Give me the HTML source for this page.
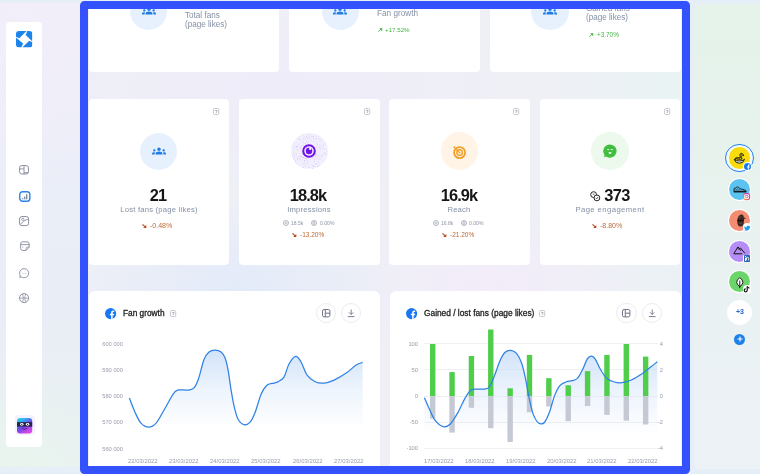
<!DOCTYPE html>
<html><head><meta charset="utf-8"><style>
*{margin:0;padding:0;box-sizing:border-box}
html,body{width:760px;height:474px;overflow:hidden}
body{position:relative;font-family:"Liberation Sans", sans-serif;background:#E6EEF8;}
.t{position:absolute;white-space:nowrap;font-family:"Liberation Sans", sans-serif;will-change:transform}
#clip{position:absolute;left:88px;top:9px;width:594px;height:457px;overflow:hidden}
#inner{position:absolute;left:-88px;top:-9px;width:760px;height:474px}
#frame{position:absolute;left:80px;top:1px;width:610px;height:473px;border:8px solid #3352FE;border-radius:4.5px;pointer-events:none}
</style></head><body>
<div style="position:absolute;left:-6.00px;top:2.50px;width:694.00px;height:464.20px;border-radius:6px;background:radial-gradient(ellipse 200px 150px at 20px 30px, rgba(242,238,250,1), rgba(242,238,250,0) 100%),radial-gradient(ellipse 120px 90px at 20px 466px, rgba(233,244,238,1), rgba(233,244,238,0) 100%),linear-gradient(180deg,#EFEEF8 0%,#EBEEF8 35%,#E9EEF6 65%,#E9F1F1 100%);"></div>
<div style="position:absolute;left:693.70px;top:3.50px;width:72.00px;height:465.00px;border-radius:6px;background:linear-gradient(180deg,#E5F3EA 0%,#E8F2EE 40%,#EAF1F3 70%,#EDF2F7 100%);"></div>
<div style="position:absolute;left:6.00px;top:21.80px;width:35.80px;height:425.00px;background:#fff;border-radius:4px;"></div>
<svg style="position:absolute;left:16.00px;top:31.00px;overflow:visible" width="16.4" height="16.6" viewBox="0 0 16.4 16.6"><defs><clipPath id="lc"><rect width="16.4" height="16.6" rx="3"/></clipPath></defs><g clip-path="url(#lc)" fill="#1D84EE"><polygon points="0,0 10.5,0 3.4,7.3 0,5.75"/><polygon points="11.3,0 16.4,0 16.4,10.5 9.7,4.0"/><polygon points="16.4,11.3 16.4,16.6 6.2,16.6 13.3,9.7"/><polygon points="0,6.4 7.1,12.6 5.3,16.6 0,16.6"/></g></svg>
<svg style="position:absolute;left:19.40px;top:164.50px;overflow:visible" width="10" height="9.6" viewBox="0 0 10 9.6"><rect x="0.55" y="0.55" width="8.9" height="8.5" rx="2.4" fill="none" stroke="#8A8F9E" stroke-width="1"/><path d="M5,0.6 V9 M0.6,3.9 H5 M5,7.6 H9.4" stroke="#8A8F9E" stroke-width="0.9"/></svg>
<svg style="position:absolute;left:18.60px;top:190.80px;overflow:visible" width="11.6" height="11" viewBox="0 0 11.6 11"><rect x="0.75" y="0.75" width="10.1" height="9.5" rx="2.8" fill="none" stroke="#2B86E6" stroke-width="1.4"/><path d="M3.8,7.6 V7.9 M5.8,6 V7.9 M7.8,3.6 V7.9" stroke="#3A5A86" stroke-width="0.95" stroke-linecap="round"/></svg>
<svg style="position:absolute;left:19.30px;top:215.90px;overflow:visible" width="10.2" height="10.2" viewBox="0 0 10.2 10.2"><rect x="0.55" y="0.55" width="9.1" height="9.1" rx="2.4" fill="none" stroke="#8A8F9E" stroke-width="1"/><circle cx="3.8" cy="3.3" r="1.15" fill="none" stroke="#8A8F9E" stroke-width="0.8"/><path d="M1.2,8.4 L4.6,5.4 Q6,4.2 7.6,3.8 L9.4,3.3" stroke="#8A8F9E" stroke-width="0.9" fill="none"/></svg>
<svg style="position:absolute;left:19.60px;top:241.40px;overflow:visible" width="10" height="10.2" viewBox="0 0 10 10.2"><path d="M2.8,0.8 H7 Q9.2,0.8 9.2,3 V6.2 L6.1,9.4 H2.8 Q0.6,9.4 0.6,7.2 V3 Q0.6,0.8 2.8,0.8 Z" fill="none" stroke="#8A8F9E" stroke-width="0.95"/><path d="M0.6,3.6 H9.2 M6.1,9.4 V7.6 Q6.1,6.2 7.5,6.2 H9.2" stroke="#8A8F9E" stroke-width="0.9" fill="none"/><circle cx="2.9" cy="6" r="0.55" fill="#8A8F9E"/></svg>
<svg style="position:absolute;left:19.40px;top:267.70px;overflow:visible" width="10.2" height="10.2" viewBox="0 0 10.2 10.2"><path d="M5.1,0.6 A4.6,4.6 0 1 1 2.4,8.9 L0.7,9.5 L1.3,7.8 A4.6,4.6 0 0 1 5.1,0.6 Z" fill="none" stroke="#8A8F9E" stroke-width="0.95"/><circle cx="3.1" cy="5.3" r="0.5" fill="#9AA0B6"/><circle cx="5.0" cy="5.3" r="0.5" fill="#9AA0B6"/><circle cx="6.9" cy="5.3" r="0.5" fill="#9AA0B6"/></svg>
<svg style="position:absolute;left:19.30px;top:293.30px;overflow:visible" width="10.2" height="10.2" viewBox="0 0 10.2 10.2"><circle cx="5.1" cy="5.1" r="4.55" fill="none" stroke="#8A8F9E" stroke-width="0.95"/><path d="M0.6,5.1 H9.6 M3.6,0.9 Q5.3,5.1 3.6,9.3 M6.6,0.9 Q4.9,5.1 6.6,9.3" stroke="#8A8F9E" stroke-width="0.75" fill="none"/></svg>
<div style="position:absolute;left:14.50px;top:415.20px;width:20.00px;height:20.00px;background:#F4F2FD;border-radius:4px;"></div>
<svg style="position:absolute;left:17.20px;top:418.00px;overflow:visible" width="15.2" height="15.4" viewBox="0 0 15.2 15.4"><defs><linearGradient id="av" x1="0" y1="0" x2="0.6" y2="1"><stop offset="0" stop-color="#2FD8F2"/><stop offset="0.3" stop-color="#38A8F0"/><stop offset="0.6" stop-color="#7444E6"/><stop offset="1" stop-color="#D848E8"/></linearGradient></defs><rect width="15.2" height="15.4" rx="3" fill="url(#av)"/><rect x="0" y="4.2" width="15.2" height="4.4" fill="#1E1B3A" opacity="0.9"/><ellipse cx="4.8" cy="6.3" rx="1.7" ry="1.4" fill="#fff"/><ellipse cx="10.6" cy="6.3" rx="1.7" ry="1.4" fill="#fff"/><circle cx="4.8" cy="6.4" r="0.6" fill="#1E1B3A"/><circle cx="10.6" cy="6.4" r="0.6" fill="#1E1B3A"/><path d="M5.4,10.5 Q7.7,12 10,10.5" stroke="#3A1A6A" stroke-width="0.8" fill="none"/></svg>
<div style="position:absolute;left:725.40px;top:144.00px;width:28.20px;height:28.20px;border-radius:50%;border:1.5px solid #1E84EE;box-sizing:border-box;background:rgba(255,255,255,0.55);"></div>
<div style="position:absolute;left:728.80px;top:147.40px;width:21.40px;height:21.40px;border-radius:50%;background:#F9DC0A;"></div>
<svg style="position:absolute;left:733.00px;top:152.00px;overflow:visible" width="13" height="12" viewBox="0 0 13 12"><path d="M1.4,7.6 Q3.2,6.3 5.8,7.2 Q7.8,7.6 9.2,6.9 Q8,5.8 8.3,4.6 Q8.6,3.8 9.6,3.3 L10.6,3.7 Q10.4,2.2 9.4,1.6 Q8.2,1 7.3,1.8 Q6.5,2.8 7.2,4.2 Q7.6,5.2 7,6 Q5,5.5 3,5.9 Q1.8,6.3 1.4,7.6 Z" fill="#F9DC0A" stroke="#111" stroke-width="0.95" stroke-linejoin="round"/><path d="M1.4,7.6 Q2.4,11.3 6.5,11.2 Q10.6,11.1 11.5,7.3 Q10.4,8.8 6.5,9 Q3.2,9 1.4,7.6 Z" fill="#fff" stroke="#111" stroke-width="0.95" stroke-linejoin="round"/><circle cx="8.6" cy="2.8" r="0.55" fill="#111"/></svg>
<div style="position:absolute;left:743.30px;top:162.00px;width:8.60px;height:8.60px;border-radius:50%;background:#fff;"></div>
<svg style="position:absolute;left:744.10px;top:162.80px;overflow:visible" width="7.0" height="7.0" viewBox="0 0 7.0 7.0"><defs><clipPath id="fbc3"><circle cx="3.5" cy="3.5" r="3.5"/></clipPath></defs><circle cx="3.5" cy="3.5" r="3.5" fill="#1877F2"/><g clip-path="url(#fbc3)"><path transform="scale(0.2917)" d="M16.5 24V15.6h2.8l.4-3.3h-3.2v-2.1c0-.95.26-1.6 1.630-1.6h1.7V5.66c-.3-.04-1.32-.13-2.5-.13-2.46 0-4.15 1.5-4.150 4.27v2.4H10.4v3.3h2.8V24z" fill="#fff"/></g></svg>
<div style="position:absolute;left:727.70px;top:177.80px;width:23.60px;height:23.60px;border-radius:50%;background:#fff;"></div>
<div style="position:absolute;left:728.80px;top:178.90px;width:21.40px;height:21.40px;border-radius:50%;background:#5CC3F1;"></div>
<svg style="position:absolute;left:732.80px;top:185.50px;overflow:visible" width="14" height="7" viewBox="0 0 14 7"><path d="M0.9,4.6 L1.3,2.2 Q2.5,2.5 3.3,1.4 Q4.4,0.6 5.5,1.3 Q6.3,2.4 7.8,2.9 L11.3,3.9 Q13.2,4.4 13.2,5.2 L0.9,5.2 Z" fill="#5CC3F1" stroke="#111" stroke-width="0.9" stroke-linejoin="round"/><path d="M0.7,5.8 H13.3" stroke="#111" stroke-width="1.3"/><path d="M3.2,2.9 v1.1 M4.6,2.4 v1.2 M6.1,3 v1.1" stroke="#111" stroke-width="0.6"/></svg>
<div style="position:absolute;left:742.50px;top:192.50px;width:8.80px;height:8.80px;border-radius:50%;background:#fff;"></div>
<svg style="position:absolute;left:743.30px;top:193.30px;overflow:visible" width="7.2" height="7.2" viewBox="0 0 7.2 7.2"><defs><linearGradient id="ig" x1="0" y1="1" x2="1" y2="0"><stop offset="0" stop-color="#F7A34B"/><stop offset="0.5" stop-color="#E0457B"/><stop offset="1" stop-color="#B33AC7"/></linearGradient></defs><rect x="0.6" y="0.6" width="6" height="6" rx="1.8" fill="#fff" stroke="url(#ig)" stroke-width="1.1"/><circle cx="3.6" cy="3.6" r="1.35" fill="none" stroke="url(#ig)" stroke-width="0.9"/></svg>
<div style="position:absolute;left:727.70px;top:208.60px;width:23.60px;height:23.60px;border-radius:50%;background:#fff;"></div>
<div style="position:absolute;left:728.90px;top:209.80px;width:21.20px;height:21.20px;border-radius:50%;background:#F38C73;"></div>
<svg style="position:absolute;left:735.80px;top:213.80px;overflow:visible" width="10.5" height="13" viewBox="0 0 10.5 13"><path d="M2.4,2.6 Q3.8,0.2 6.3,0.6 Q8,1.4 7.8,3.6 L9.8,3.9 Q9.6,4.9 7.9,5.1 Q8,8.5 7.6,10.4 Q6.4,12.6 4.2,12.6 Q1.8,12.2 1.4,9.6 Q0.6,5.6 2.4,2.6 Z" fill="#3B2722"/><path d="M1.6,6.3 Q4.5,6.9 7.8,6.2" stroke="#111" stroke-width="1.2" fill="none"/><path d="M3.2,3.2 h2 M3,9.2 h2.6" stroke="#8A6458" stroke-width="0.6"/></svg>
<div style="position:absolute;left:742.70px;top:223.20px;width:8.60px;height:8.60px;border-radius:50%;background:#fff;"></div>
<svg style="position:absolute;left:743.60px;top:224.60px;overflow:visible" width="6.8" height="5.8" viewBox="0 0 6.8 5.8"><path d="M6.5,0.9 Q5.9,1.3 5.3,1.3 Q4.2,0.1 3,0.9 Q2.2,1.6 2.5,2.5 Q1.1,2.4 0.3,1.3 Q-0.1,2.7 1,3.5 Q0.6,3.5 0.4,3.3 Q0.5,4.4 1.6,4.8 Q1,5.1 0,5 Q3.2,6.7 5.3,4.2 Q6.2,3 6.1,1.6 Q6.4,1.3 6.5,0.9Z" fill="#1D9BF0"/></svg>
<div style="position:absolute;left:727.70px;top:239.70px;width:23.60px;height:23.60px;border-radius:50%;background:#fff;"></div>
<div style="position:absolute;left:728.90px;top:240.90px;width:21.20px;height:21.20px;border-radius:50%;background:#B58DF6;"></div>
<svg style="position:absolute;left:733.00px;top:246.00px;overflow:visible" width="13" height="9" viewBox="0 0 13 9"><path d="M0.8,7.7 L5,0.9 L7.9,4.8 M6.4,2.8 L7.5,2.1 L12,7.4" stroke="#111" stroke-width="0.95" fill="none" stroke-linejoin="round"/><path d="M0.8,7.8 H9.2" stroke="#111" stroke-width="1"/><path d="M4.2,2.2 L5.4,3.2 L6.3,2.6" stroke="#111" stroke-width="0.7" fill="none"/></svg>
<div style="position:absolute;left:743.40px;top:254.60px;width:7.60px;height:7.60px;background:#fff;border-radius:1.2px;"></div>
<div style="position:absolute;left:744.00px;top:255.20px;width:6.40px;height:6.40px;background:#2A67B3;border-radius:0.8px;"></div>
<div style="position:absolute;left:744.90px;top:257.50px;width:0.90px;height:3.30px;background:#fff;"></div>
<div style="position:absolute;left:744.90px;top:256.20px;width:0.90px;height:0.90px;background:#fff;"></div>
<svg style="position:absolute;left:746.30px;top:257.40px;overflow:visible" width="3.6" height="3.6" viewBox="0 0 3.6 3.6"><path d="M0.4,3.4 V0.1 M0.4,1.5 Q0.6,0.3 1.6,0.3 Q2.6,0.3 2.6,1.5 V3.4" stroke="#fff" stroke-width="0.85" fill="none"/></svg>
<div style="position:absolute;left:727.70px;top:269.90px;width:23.60px;height:23.60px;border-radius:50%;background:#fff;"></div>
<div style="position:absolute;left:728.90px;top:271.10px;width:21.20px;height:21.20px;border-radius:50%;background:#6BD46B;"></div>
<svg style="position:absolute;left:735.80px;top:276.70px;overflow:visible" width="7.6" height="11.6" viewBox="0 0 7.6 11.6"><path d="M3.8,0.6 Q6.9,2.9 6.9,5.3 Q6.9,7.6 3.8,9.6 Q0.7,7.6 0.7,5.3 Q0.7,2.9 3.8,0.6 Z" fill="#fff" stroke="#111" stroke-width="0.95"/><path d="M3.8,3.6 V11.2" stroke="#111" stroke-width="0.95"/></svg>
<div style="position:absolute;left:742.60px;top:284.90px;width:8.80px;height:8.80px;border-radius:50%;background:#fff;"></div>
<svg style="position:absolute;left:744.30px;top:286.20px;overflow:visible" width="6" height="6.4" viewBox="0 0 6 6.4"><path d="M3.2,0.4 V4.3 A1.5,1.5 0 1 1 1.7,2.8" stroke="#111" stroke-width="1.2" fill="none"/><path d="M3.2,0.6 Q3.8,1.9 5.4,2.1" stroke="#111" stroke-width="1.1" fill="none"/></svg>
<div style="position:absolute;left:726.70px;top:299.50px;width:25.60px;height:25.60px;border-radius:50%;background:#fff;"></div>
<div class="t" style="top:308px;font-size:7px;line-height:7px;color:#2A66C8;font-weight:700;left:589.50px;width:300px;text-align:center;">+3</div>
<div style="position:absolute;left:733.90px;top:333.70px;width:11.20px;height:11.20px;border-radius:50%;background:#1E80EA;"></div>
<svg style="position:absolute;left:736.50px;top:336.30px;overflow:visible" width="6" height="6" viewBox="0 0 6 6"><path d="M3,0.5 V5.5 M0.5,3 H5.5" stroke="#fff" stroke-width="1.1"/></svg>
<div id="clip"><div id="inner">
<div style="position:absolute;left:88.00px;top:9.00px;width:594.00px;height:457.00px;background:radial-gradient(ellipse 230px 110px at 190px 80px, rgba(239,236,249,1), rgba(239,236,249,0) 100%),radial-gradient(ellipse 150px 80px at 400px 278px, rgba(243,236,249,1), rgba(243,236,249,0) 100%),radial-gradient(ellipse 170px 90px at 150px 278px, rgba(227,234,249,1), rgba(227,234,249,0) 100%),radial-gradient(ellipse 200px 130px at 660px 70px, rgba(231,245,241,1), rgba(231,245,241,0) 100%),radial-gradient(ellipse 170px 100px at 670px 280px, rgba(231,243,244,1), rgba(231,243,244,0) 100%),#EEF0F6;"></div>
<div style="position:absolute;left:88.50px;top:-40.00px;width:190.50px;height:112.30px;background:#fff;border-radius:4px;"></div>
<div style="position:absolute;left:289.00px;top:-40.00px;width:190.50px;height:112.30px;background:#fff;border-radius:4px;"></div>
<div style="position:absolute;left:490.00px;top:-40.00px;width:190.50px;height:112.30px;background:#fff;border-radius:4px;"></div>
<div style="position:absolute;left:129.90px;top:-7.60px;width:37.60px;height:37.60px;border-radius:50%;background:#E7F1FD;"></div>
<svg style="position:absolute;left:141.70px;top:4.00px;overflow:visible" width="14.0" height="14.0" viewBox="0 0 24 24"><path fill="#1E7CE6" d="M12 12.75c1.63 0 3.07.39 4.24.9 1.08.48 1.76 1.56 1.76 2.73V18H6v-1.61c0-1.18.68-2.26 1.76-2.73 1.17-.52 2.61-.91 4.24-.91zM4 13c1.1 0 2-.9 2-2s-.9-2-2-2-2 .9-2 2 .9 2 2 2zm1.13 1.1c-.37-.06-.74-.1-1.130-.1-.99 0-1.93.21-2.78.58C.48 14.9 0 15.62 0 16.43V18h4.5v-1.61c0-.83.23-1.61.63-2.29zM20 13c1.1 0 2-.9 2-2s-.9-2-2-2-2 .9-2 2 .9 2 2 2zm4 3.43c0-.81-.48-1.53-1.22-1.850-.85-.37-1.79-.58-2.78-.58-.39 0-.76.04-1.13.1.4.68.63 1.46.63 2.29V18H24v-1.57zM12 6c1.66 0 3 1.34 3 3s-1.34 3-3 3-3-1.34-3-3 1.34-3 3-3z"/></svg>
<div style="position:absolute;left:321.50px;top:-7.80px;width:37.60px;height:37.60px;border-radius:50%;background:#E7F1FD;"></div>
<svg style="position:absolute;left:333.30px;top:3.80px;overflow:visible" width="14.0" height="14.0" viewBox="0 0 24 24"><path fill="#1E7CE6" d="M12 12.75c1.63 0 3.07.39 4.24.9 1.08.48 1.76 1.56 1.76 2.73V18H6v-1.61c0-1.18.68-2.26 1.76-2.73 1.17-.52 2.61-.91 4.24-.91zM4 13c1.1 0 2-.9 2-2s-.9-2-2-2-2 .9-2 2 .9 2 2 2zm1.13 1.1c-.37-.06-.74-.1-1.130-.1-.99 0-1.93.21-2.78.58C.48 14.9 0 15.62 0 16.43V18h4.5v-1.61c0-.83.23-1.61.63-2.29zM20 13c1.1 0 2-.9 2-2s-.9-2-2-2-2 .9-2 2 .9 2 2 2zm4 3.43c0-.81-.48-1.53-1.22-1.850-.85-.37-1.79-.58-2.78-.58-.39 0-.76.04-1.13.1.4.68.63 1.46.63 2.29V18H24v-1.57zM12 6c1.66 0 3 1.34 3 3s-1.34 3-3 3-3-1.34-3-3 1.34-3 3-3z"/></svg>
<div style="position:absolute;left:531.40px;top:-7.40px;width:37.60px;height:37.60px;border-radius:50%;background:#E7F1FD;"></div>
<svg style="position:absolute;left:543.20px;top:4.20px;overflow:visible" width="14.0" height="14.0" viewBox="0 0 24 24"><path fill="#1E7CE6" d="M12 12.75c1.63 0 3.07.39 4.24.9 1.08.48 1.76 1.56 1.76 2.73V18H6v-1.61c0-1.18.68-2.26 1.76-2.73 1.17-.52 2.61-.91 4.24-.91zM4 13c1.1 0 2-.9 2-2s-.9-2-2-2-2 .9-2 2 .9 2 2 2zm1.13 1.1c-.37-.06-.74-.1-1.130-.1-.99 0-1.93.21-2.78.58C.48 14.9 0 15.62 0 16.43V18h4.5v-1.61c0-.83.23-1.61.63-2.29zM20 13c1.1 0 2-.9 2-2s-.9-2-2-2-2 .9-2 2 .9 2 2 2zm4 3.43c0-.81-.48-1.53-1.22-1.850-.85-.37-1.79-.58-2.78-.58-.39 0-.76.04-1.13.1.4.68.63 1.46.63 2.29V18H24v-1.57zM12 6c1.66 0 3 1.34 3 3s-1.34 3-3 3-3-1.34-3-3 1.34-3 3-3z"/></svg>
<div class="t" style="top:11px;font-size:8.15px;line-height:9px;color:#8590A6;left:184.90px;">Total fans</div>
<div class="t" style="top:20px;font-size:8.15px;line-height:9px;color:#8590A6;left:184.90px;">(page likes)</div>
<div class="t" style="top:9px;font-size:8.2px;line-height:9px;color:#8590A6;left:376.60px;">Fan growth</div>
<div class="t" style="top:4px;font-size:8.15px;line-height:9px;color:#8590A6;left:586.20px;">Gained fans</div>
<div class="t" style="top:13px;font-size:8.15px;line-height:9px;color:#8590A6;left:586.20px;">(page likes)</div>
<svg style="position:absolute;left:377.60px;top:27.90px;overflow:visible" width="4.4" height="4.2" viewBox="0 0 4.4 4.2"><path d="M0.5,3.7 L3.6,0.6" stroke="#45B545" stroke-width="1"/><path d="M1.2,0.2 H4.2 V3.2 Z" fill="#45B545"/></svg>
<div class="t" style="top:26px;font-size:6.2px;line-height:7px;color:#45B545;left:384.50px;">+17.52%</div>
<svg style="position:absolute;left:588.60px;top:32.90px;overflow:visible" width="4.4" height="4.2" viewBox="0 0 4.4 4.2"><path d="M0.5,3.7 L3.6,0.6" stroke="#45B545" stroke-width="1"/><path d="M1.2,0.2 H4.2 V3.2 Z" fill="#45B545"/></svg>
<div class="t" style="top:31px;font-size:6.4px;line-height:7px;color:#45B545;left:596.70px;">+3.70%</div>
<div style="position:absolute;left:88.50px;top:98.50px;width:140.50px;height:166.50px;background:#fff;border-radius:4px;"></div>
<svg style="position:absolute;left:212.90px;top:107.90px;overflow:visible" width="6.2" height="7" viewBox="0 0 6.2 7"><rect x="0.45" y="0.45" width="5.3" height="6.1" rx="1.3" fill="none" stroke="#BFC2CB" stroke-width="0.9"/><path d="M2.1,2.4 H3.9 Q4.1,2.5 3.9,3.2 L3.1,4.9" stroke="#9EA2AE" stroke-width="0.9" fill="none"/></svg>
<div style="position:absolute;left:239.00px;top:98.50px;width:141.00px;height:166.50px;background:#fff;border-radius:4px;"></div>
<svg style="position:absolute;left:363.90px;top:107.90px;overflow:visible" width="6.2" height="7" viewBox="0 0 6.2 7"><rect x="0.45" y="0.45" width="5.3" height="6.1" rx="1.3" fill="none" stroke="#BFC2CB" stroke-width="0.9"/><path d="M2.1,2.4 H3.9 Q4.1,2.5 3.9,3.2 L3.1,4.9" stroke="#9EA2AE" stroke-width="0.9" fill="none"/></svg>
<div style="position:absolute;left:389.00px;top:98.50px;width:140.50px;height:166.50px;background:#fff;border-radius:4px;"></div>
<svg style="position:absolute;left:513.40px;top:107.90px;overflow:visible" width="6.2" height="7" viewBox="0 0 6.2 7"><rect x="0.45" y="0.45" width="5.3" height="6.1" rx="1.3" fill="none" stroke="#BFC2CB" stroke-width="0.9"/><path d="M2.1,2.4 H3.9 Q4.1,2.5 3.9,3.2 L3.1,4.9" stroke="#9EA2AE" stroke-width="0.9" fill="none"/></svg>
<div style="position:absolute;left:540.00px;top:98.50px;width:140.00px;height:166.50px;background:#fff;border-radius:4px;"></div>
<svg style="position:absolute;left:663.90px;top:107.90px;overflow:visible" width="6.2" height="7" viewBox="0 0 6.2 7"><rect x="0.45" y="0.45" width="5.3" height="6.1" rx="1.3" fill="none" stroke="#BFC2CB" stroke-width="0.9"/><path d="M2.1,2.4 H3.9 Q4.1,2.5 3.9,3.2 L3.1,4.9" stroke="#9EA2AE" stroke-width="0.9" fill="none"/></svg>
<div style="position:absolute;left:140.05px;top:132.80px;width:37.40px;height:37.40px;border-radius:50%;background:#E7F1FD;"></div>
<svg style="position:absolute;left:151.75px;top:143.90px;overflow:visible" width="14.0" height="14.0" viewBox="0 0 24 24"><path fill="#1E7CE6" d="M12 12.75c1.63 0 3.07.39 4.24.9 1.08.48 1.76 1.56 1.76 2.73V18H6v-1.61c0-1.18.68-2.26 1.76-2.73 1.17-.52 2.61-.91 4.24-.91zM4 13c1.1 0 2-.9 2-2s-.9-2-2-2-2 .9-2 2 .9 2 2 2zm1.13 1.1c-.37-.06-.74-.1-1.130-.1-.99 0-1.93.21-2.78.58C.48 14.9 0 15.62 0 16.43V18h4.5v-1.61c0-.83.23-1.61.63-2.29zM20 13c1.1 0 2-.9 2-2s-.9-2-2-2-2 .9-2 2 .9 2 2 2zm4 3.43c0-.81-.48-1.53-1.22-1.850-.85-.37-1.79-.58-2.78-.58-.39 0-.76.04-1.13.1.4.68.63 1.46.63 2.29V18H24v-1.57zM12 6c1.66 0 3 1.34 3 3s-1.34 3-3 3-3-1.34-3-3 1.34-3 3-3z"/></svg>
<div style="position:absolute;left:291.30px;top:132.80px;width:36.40px;height:36.40px;border-radius:50%;background:radial-gradient(circle, #F1EDFD 0%, #F3F0FD 60%, #F6F4FE 100%);"></div>
<svg style="position:absolute;left:291.30px;top:132.80px;overflow:visible" width="36.4" height="36.4" viewBox="0 0 36.4 36.4"><defs><filter id="spk" x="0" y="0" width="100%" height="100%"><feTurbulence type="fractalNoise" baseFrequency="0.9" numOctaves="1" seed="3" result="n"/><feColorMatrix in="n" type="matrix" values="0 0 0 0 0.5  0 0 0 0 0.38  0 0 0 0 0.92  0 0 0 -5 2.2"/></filter><clipPath id="spc"><circle cx="18.2" cy="18.2" r="18"/></clipPath></defs><g clip-path="url(#spc)"><rect width="36.4" height="36.4" filter="url(#spk)" opacity="0.6"/></g></svg>
<svg style="position:absolute;left:301.30px;top:143.20px;overflow:visible" width="16" height="16" viewBox="0 0 16 16"><circle cx="8" cy="8" r="5.8" fill="none" stroke="#6F12EC" stroke-width="2"/><circle cx="8" cy="8" r="3.2" fill="#6F12EC"/><circle cx="9.2" cy="5.9" r="1.15" fill="#fff"/></svg>
<div style="position:absolute;left:440.55px;top:132.30px;width:37.40px;height:37.40px;border-radius:50%;background:#FFF4E5;"></div>
<svg style="position:absolute;left:451.25px;top:143.60px;overflow:visible" width="16" height="16" viewBox="0 0 16 16"><circle cx="8.6" cy="8.6" r="5.5" fill="none" stroke="#F1A02A" stroke-width="1.8"/><circle cx="8.6" cy="8.6" r="2.8" fill="none" stroke="#F1A02A" stroke-width="1.4"/><circle cx="8.6" cy="8.6" r="0.9" fill="#F1A02A"/><path d="M8.6,8.6 L3.3,3.3" stroke="#F1A02A" stroke-width="1.2"/><path d="M2.3,3.9 L3.3,3.3 L3.9,2.3" stroke="#F1A02A" stroke-width="1.1" fill="none"/></svg>
<div style="position:absolute;left:591.40px;top:132.20px;width:37.40px;height:37.40px;border-radius:50%;background:#ECF9EC;"></div>
<svg style="position:absolute;left:602.10px;top:142.90px;overflow:visible" width="16" height="16" viewBox="0 0 16 16"><path d="M8,1.4 A6.6,6.6 0 1 1 4.2,13.4 L1.9,14.3 L2.6,11.9 A6.6,6.6 0 0 1 8,1.4 Z" fill="#3FBE3F"/><path d="M5.6,6.6 h1.2 M9.2,6.6 h1.2" stroke="#fff" stroke-width="0.9" stroke-linecap="round"/><path d="M6.4,9.3 h3.2 a1.6,1.6 0 0 1 -3.2,0 z" fill="#fff"/></svg>
<div class="t" style="top:186px;font-size:16.4px;line-height:18px;color:#161616;font-weight:700;letter-spacing:-0.9px;left:8.35px;width:300px;text-align:center;">21</div>
<div class="t" style="top:186px;font-size:16.4px;line-height:18px;color:#161616;font-weight:700;letter-spacing:-0.9px;left:158.30px;width:300px;text-align:center;">18.8k</div>
<div class="t" style="top:186px;font-size:16.4px;line-height:18px;color:#161616;font-weight:700;letter-spacing:-0.9px;left:309.25px;width:300px;text-align:center;">16.9k</div>
<div class="t" style="top:186px;font-size:16.4px;line-height:18px;color:#161616;font-weight:700;letter-spacing:-0.6px;left:467.20px;width:300px;text-align:center;">373</div>
<svg style="position:absolute;left:590.20px;top:190.60px;overflow:visible" width="10.5" height="10.5" viewBox="0 0 10.5 10.5"><circle cx="3.6" cy="3.6" r="2.9" fill="none" stroke="#222" stroke-width="1"/><circle cx="6.9" cy="6.9" r="2.9" fill="#fff" stroke="#222" stroke-width="1"/><path d="M5.7,6.9 l1,1 l1.3,-1.8" stroke="#222" stroke-width="0.8" fill="none"/><path d="M2.8,3.2 h1.6" stroke="#222" stroke-width="0.8"/></svg>
<div class="t" style="top:205px;font-size:7.7px;line-height:9px;color:#8590A6;letter-spacing:0.2px;left:8.75px;width:300px;text-align:center;">Lost fans (page likes)</div>
<div class="t" style="top:205px;font-size:7.7px;line-height:9px;color:#8590A6;letter-spacing:0.2px;left:158.80px;width:300px;text-align:center;">Impressions</div>
<div class="t" style="top:205px;font-size:7.7px;line-height:9px;color:#8590A6;letter-spacing:0.2px;left:309.25px;width:300px;text-align:center;">Reach</div>
<div class="t" style="top:205px;font-size:7.7px;line-height:9px;color:#8590A6;letter-spacing:0.42px;left:459.80px;width:300px;text-align:center;">Page engagement</div>
<svg style="position:absolute;left:141.80px;top:223.80px;overflow:visible" width="4.4" height="4.0" viewBox="0 0 4.4 4.0"><path d="M0.5,0.4 L3.4,3.2" stroke="#B4491F" stroke-width="1.1"/><path d="M1.2,4 H4.3 V0.9 Z" fill="#B4491F"/></svg>
<div class="t" style="top:222px;font-size:7.0px;line-height:7px;color:#BE6A38;left:150.40px;">-0.48%</div>
<svg style="position:absolute;left:592.10px;top:223.80px;overflow:visible" width="4.4" height="4.0" viewBox="0 0 4.4 4.0"><path d="M0.5,0.4 L3.4,3.2" stroke="#B4491F" stroke-width="1.1"/><path d="M1.2,4 H4.3 V0.9 Z" fill="#B4491F"/></svg>
<div class="t" style="top:222px;font-size:7.0px;line-height:7px;color:#BE6A38;left:600.00px;">-8.80%</div>
<svg style="position:absolute;left:291.80px;top:232.80px;overflow:visible" width="4.4" height="4.0" viewBox="0 0 4.4 4.0"><path d="M0.5,0.4 L3.4,3.2" stroke="#B4491F" stroke-width="1.1"/><path d="M1.2,4 H4.3 V0.9 Z" fill="#B4491F"/></svg>
<div class="t" style="top:231px;font-size:6.5px;line-height:7px;color:#BE6A38;left:299.90px;">-13.20%</div>
<svg style="position:absolute;left:441.60px;top:232.80px;overflow:visible" width="4.4" height="4.0" viewBox="0 0 4.4 4.0"><path d="M0.5,0.4 L3.4,3.2" stroke="#B4491F" stroke-width="1.1"/><path d="M1.2,4 H4.3 V0.9 Z" fill="#B4491F"/></svg>
<div class="t" style="top:231px;font-size:6.5px;line-height:7px;color:#BE6A38;left:449.70px;">-21.20%</div>
<svg style="position:absolute;left:282.90px;top:219.90px;overflow:visible" width="6" height="6" viewBox="0 0 6 6"><circle cx="3" cy="3" r="2.5" fill="none" stroke="#9298AA" stroke-width="0.7"/><path d="M2.3,1.8 v2.4 M3.7,1.8 v2.4" stroke="#9298AA" stroke-width="0.6"/></svg>
<div class="t" style="top:220px;font-size:5.0px;line-height:6px;color:#8E95A8;left:290.90px;">18.5k</div>
<svg style="position:absolute;left:311.00px;top:219.90px;overflow:visible" width="6" height="6" viewBox="0 0 6 6"><circle cx="3" cy="3" r="2.5" fill="none" stroke="#9298AA" stroke-width="0.7"/><ellipse cx="3" cy="3" rx="1" ry="1.5" fill="none" stroke="#9298AA" stroke-width="0.6"/></svg>
<div class="t" style="top:220px;font-size:5.1px;line-height:6px;color:#8E95A8;left:319.60px;">0.00%</div>
<svg style="position:absolute;left:432.60px;top:219.90px;overflow:visible" width="6" height="6" viewBox="0 0 6 6"><circle cx="3" cy="3" r="2.5" fill="none" stroke="#9298AA" stroke-width="0.7"/><path d="M2.3,1.8 v2.4 M3.7,1.8 v2.4" stroke="#9298AA" stroke-width="0.6"/></svg>
<div class="t" style="top:220px;font-size:5.0px;line-height:6px;color:#8E95A8;left:440.60px;">16.8k</div>
<svg style="position:absolute;left:460.70px;top:219.90px;overflow:visible" width="6" height="6" viewBox="0 0 6 6"><circle cx="3" cy="3" r="2.5" fill="none" stroke="#9298AA" stroke-width="0.7"/><ellipse cx="3" cy="3" rx="1" ry="1.5" fill="none" stroke="#9298AA" stroke-width="0.6"/></svg>
<div class="t" style="top:220px;font-size:5.1px;line-height:6px;color:#8E95A8;left:469.30px;">0.00%</div>
<div style="position:absolute;left:88.50px;top:290.50px;width:291.00px;height:200.00px;background:#fff;border-radius:6px;"></div>
<div style="position:absolute;left:389.50px;top:290.50px;width:291.00px;height:200.00px;background:#fff;border-radius:6px;"></div>
<svg style="position:absolute;left:105.00px;top:307.90px;overflow:visible" width="11.2" height="11.2" viewBox="0 0 11.2 11.2"><defs><clipPath id="fbc1"><circle cx="5.6" cy="5.6" r="5.6"/></clipPath></defs><circle cx="5.6" cy="5.6" r="5.6" fill="#1877F2"/><g clip-path="url(#fbc1)"><path transform="scale(0.4667)" d="M16.5 24V15.6h2.8l.4-3.3h-3.2v-2.1c0-.95.26-1.6 1.630-1.6h1.7V5.66c-.3-.04-1.32-.13-2.5-.13-2.46 0-4.15 1.5-4.150 4.27v2.4H10.4v3.3h2.8V24z" fill="#fff"/></g></svg>
<div class="t" style="top:308px;font-size:8.3px;line-height:10px;color:#222;left:122.50px;-webkit-text-stroke:0.3px #222;">Fan growth</div>
<svg style="position:absolute;left:170.30px;top:309.60px;overflow:visible" width="6.2" height="7" viewBox="0 0 6.2 7"><rect x="0.45" y="0.45" width="5.3" height="6.1" rx="1.3" fill="none" stroke="#BFC2CB" stroke-width="0.9"/><path d="M2.1,2.4 H3.9 Q4.1,2.5 3.9,3.2 L3.1,4.9" stroke="#9EA2AE" stroke-width="0.9" fill="none"/></svg>
<svg style="position:absolute;left:405.90px;top:308.10px;overflow:visible" width="11.2" height="11.2" viewBox="0 0 11.2 11.2"><defs><clipPath id="fbc2"><circle cx="5.6" cy="5.6" r="5.6"/></clipPath></defs><circle cx="5.6" cy="5.6" r="5.6" fill="#1877F2"/><g clip-path="url(#fbc2)"><path transform="scale(0.4667)" d="M16.5 24V15.6h2.8l.4-3.3h-3.2v-2.1c0-.95.26-1.6 1.630-1.6h1.7V5.66c-.3-.04-1.32-.13-2.5-.13-2.46 0-4.15 1.5-4.150 4.27v2.4H10.4v3.3h2.8V24z" fill="#fff"/></g></svg>
<div class="t" style="top:308px;font-size:8.35px;line-height:10px;color:#222;left:423.60px;-webkit-text-stroke:0.3px #222;">Gained / lost fans (page likes)</div>
<svg style="position:absolute;left:539.30px;top:309.80px;overflow:visible" width="6.2" height="7" viewBox="0 0 6.2 7"><rect x="0.45" y="0.45" width="5.3" height="6.1" rx="1.3" fill="none" stroke="#BFC2CB" stroke-width="0.9"/><path d="M2.1,2.4 H3.9 Q4.1,2.5 3.9,3.2 L3.1,4.9" stroke="#9EA2AE" stroke-width="0.9" fill="none"/></svg>
<div style="position:absolute;left:315.50px;top:303.00px;width:20.40px;height:20.40px;border-radius:50%;border:0.8px solid #ECECF1;box-sizing:border-box;background:#fff;"></div>
<div style="position:absolute;left:340.90px;top:303.00px;width:20.40px;height:20.40px;border-radius:50%;border:0.8px solid #ECECF1;box-sizing:border-box;background:#fff;"></div>
<svg style="position:absolute;left:321.50px;top:309.00px;overflow:visible" width="8.4" height="8.4" viewBox="0 0 8.4 8.4"><rect x="0.5" y="0.5" width="7.4" height="7.4" rx="1.6" fill="none" stroke="#6E7389" stroke-width="1"/><path d="M3.3,0.5 V7.9 M3.3,4.2 H7.9" stroke="#6E7389" stroke-width="1"/></svg>
<svg style="position:absolute;left:346.90px;top:309.00px;overflow:visible" width="8.4" height="8.4" viewBox="0 0 8.4 8.4"><path d="M4.2,0.6 V5.4 M2.1,3.4 L4.2,5.5 L6.3,3.4 M0.8,7.6 H7.6" stroke="#6E7389" stroke-width="0.9" fill="none"/></svg>
<div style="position:absolute;left:616.30px;top:303.00px;width:20.40px;height:20.40px;border-radius:50%;border:0.8px solid #ECECF1;box-sizing:border-box;background:#fff;"></div>
<div style="position:absolute;left:641.70px;top:303.00px;width:20.40px;height:20.40px;border-radius:50%;border:0.8px solid #ECECF1;box-sizing:border-box;background:#fff;"></div>
<svg style="position:absolute;left:622.30px;top:309.00px;overflow:visible" width="8.4" height="8.4" viewBox="0 0 8.4 8.4"><rect x="0.5" y="0.5" width="7.4" height="7.4" rx="1.6" fill="none" stroke="#6E7389" stroke-width="1"/><path d="M3.3,0.5 V7.9 M3.3,4.2 H7.9" stroke="#6E7389" stroke-width="1"/></svg>
<svg style="position:absolute;left:647.70px;top:309.00px;overflow:visible" width="8.4" height="8.4" viewBox="0 0 8.4 8.4"><path d="M4.2,0.6 V5.4 M2.1,3.4 L4.2,5.5 L6.3,3.4 M0.8,7.6 H7.6" stroke="#6E7389" stroke-width="0.9" fill="none"/></svg>
<div class="t" style="top:341px;font-size:5.75px;line-height:6px;color:#979CAA;left:-177.40px;width:300px;text-align:right;">600 000</div>
<div class="t" style="top:367px;font-size:5.75px;line-height:6px;color:#979CAA;left:-177.40px;width:300px;text-align:right;">590 000</div>
<div class="t" style="top:393px;font-size:5.75px;line-height:6px;color:#979CAA;left:-177.40px;width:300px;text-align:right;">580 000</div>
<div class="t" style="top:419px;font-size:5.75px;line-height:6px;color:#979CAA;left:-177.40px;width:300px;text-align:right;">570 000</div>
<div class="t" style="top:446px;font-size:5.75px;line-height:6px;color:#979CAA;left:-177.40px;width:300px;text-align:right;">560 000</div>
<div class="t" style="top:458px;font-size:5.9px;line-height:6px;color:#979CAA;left:127.80px;">22/03/2022</div>
<div class="t" style="top:458px;font-size:5.9px;line-height:6px;color:#979CAA;left:168.98px;">23/03/2022</div>
<div class="t" style="top:458px;font-size:5.9px;line-height:6px;color:#979CAA;left:210.16px;">24/03/2022</div>
<div class="t" style="top:458px;font-size:5.9px;line-height:6px;color:#979CAA;left:251.34px;">25/03/2022</div>
<div class="t" style="top:458px;font-size:5.9px;line-height:6px;color:#979CAA;left:292.52px;">26/03/2022</div>
<div class="t" style="top:458px;font-size:5.9px;line-height:6px;color:#979CAA;left:333.70px;">27/03/2022</div>
<svg style="position:absolute;left:0.00px;top:0.00px;overflow:visible" width="760" height="474" viewBox="0 0 760 474"><defs><linearGradient id="lg1" gradientUnits="userSpaceOnUse" x1="0" y1="350" x2="0" y2="428"><stop offset="0" stop-color="#C6DCF8" stop-opacity="0.8"/><stop offset="0.5" stop-color="#C6DCF8" stop-opacity="0.32"/><stop offset="1" stop-color="#C6DCF8" stop-opacity="0"/></linearGradient></defs><path d="M129.40,398.10 C130.33,400.45 133.07,408.02 135.00,412.20 C136.93,416.38 138.72,420.70 141.00,423.20 C143.28,425.70 146.18,427.20 148.70,427.20 C151.22,427.20 153.37,426.37 156.10,423.20 C158.83,420.03 162.27,413.05 165.10,408.20 C167.93,403.35 171.03,397.12 173.10,394.10 C175.17,391.08 175.77,390.80 177.50,390.10 C179.23,389.40 181.55,389.90 183.50,389.90 C185.45,389.90 187.42,390.47 189.20,390.10 C190.98,389.73 192.63,389.63 194.20,387.70 C195.77,385.77 196.97,383.20 198.60,378.50 C200.23,373.80 202.27,363.92 204.00,359.50 C205.73,355.08 207.17,353.58 209.00,352.00 C210.83,350.42 212.98,350.00 215.00,350.00 C217.02,350.00 219.42,350.67 221.10,352.00 C222.78,353.33 223.93,354.98 225.10,358.00 C226.27,361.02 227.10,364.75 228.10,370.10 C229.10,375.45 230.10,384.08 231.10,390.10 C232.10,396.12 232.93,401.35 234.10,406.20 C235.27,411.05 236.43,416.13 238.10,419.20 C239.77,422.27 242.10,424.10 244.10,424.60 C246.10,425.10 248.25,424.27 250.10,422.20 C251.95,420.13 253.35,416.88 255.20,412.20 C257.05,407.52 259.20,398.62 261.20,394.10 C263.20,389.58 265.03,386.93 267.20,385.10 C269.37,383.27 272.40,383.67 274.20,383.10 C276.00,382.53 276.37,382.70 278.00,381.70 C279.63,380.70 282.17,380.05 284.00,377.10 C285.83,374.15 287.05,367.45 289.00,364.00 C290.95,360.55 293.68,356.73 295.70,356.40 C297.72,356.07 299.20,358.88 301.10,362.00 C303.00,365.12 304.77,371.82 307.10,375.10 C309.43,378.38 312.27,380.37 315.10,381.70 C317.93,383.03 320.93,383.37 324.10,383.10 C327.27,382.83 330.42,381.77 334.10,380.10 C337.78,378.43 342.52,375.62 346.20,373.10 C349.88,370.58 353.47,366.78 356.20,365.00 C358.93,363.22 361.53,362.83 362.60,362.40 L362.6,445 L129.5,445 Z" fill="url(#lg1)"/><path d="M129.40,398.10 C130.33,400.45 133.07,408.02 135.00,412.20 C136.93,416.38 138.72,420.70 141.00,423.20 C143.28,425.70 146.18,427.20 148.70,427.20 C151.22,427.20 153.37,426.37 156.10,423.20 C158.83,420.03 162.27,413.05 165.10,408.20 C167.93,403.35 171.03,397.12 173.10,394.10 C175.17,391.08 175.77,390.80 177.50,390.10 C179.23,389.40 181.55,389.90 183.50,389.90 C185.45,389.90 187.42,390.47 189.20,390.10 C190.98,389.73 192.63,389.63 194.20,387.70 C195.77,385.77 196.97,383.20 198.60,378.50 C200.23,373.80 202.27,363.92 204.00,359.50 C205.73,355.08 207.17,353.58 209.00,352.00 C210.83,350.42 212.98,350.00 215.00,350.00 C217.02,350.00 219.42,350.67 221.10,352.00 C222.78,353.33 223.93,354.98 225.10,358.00 C226.27,361.02 227.10,364.75 228.10,370.10 C229.10,375.45 230.10,384.08 231.10,390.10 C232.10,396.12 232.93,401.35 234.10,406.20 C235.27,411.05 236.43,416.13 238.10,419.20 C239.77,422.27 242.10,424.10 244.10,424.60 C246.10,425.10 248.25,424.27 250.10,422.20 C251.95,420.13 253.35,416.88 255.20,412.20 C257.05,407.52 259.20,398.62 261.20,394.10 C263.20,389.58 265.03,386.93 267.20,385.10 C269.37,383.27 272.40,383.67 274.20,383.10 C276.00,382.53 276.37,382.70 278.00,381.70 C279.63,380.70 282.17,380.05 284.00,377.10 C285.83,374.15 287.05,367.45 289.00,364.00 C290.95,360.55 293.68,356.73 295.70,356.40 C297.72,356.07 299.20,358.88 301.10,362.00 C303.00,365.12 304.77,371.82 307.10,375.10 C309.43,378.38 312.27,380.37 315.10,381.70 C317.93,383.03 320.93,383.37 324.10,383.10 C327.27,382.83 330.42,381.77 334.10,380.10 C337.78,378.43 342.52,375.62 346.20,373.10 C349.88,370.58 353.47,366.78 356.20,365.00 C358.93,363.22 361.53,362.83 362.60,362.40" fill="none" stroke="#2F83E4" stroke-width="1.25"/></svg>
<div style="position:absolute;left:423.50px;top:343.30px;width:234.00px;height:0.60px;background:#EFF0F4;"></div>
<div class="t" style="top:341px;font-size:5.75px;line-height:6px;color:#979CAA;left:118.20px;width:300px;text-align:right;">100</div>
<div class="t" style="top:341px;font-size:5.75px;line-height:6px;color:#979CAA;left:363.30px;width:300px;text-align:right;">4</div>
<div style="position:absolute;left:423.50px;top:369.40px;width:234.00px;height:0.60px;background:#EFF0F4;"></div>
<div class="t" style="top:367px;font-size:5.75px;line-height:6px;color:#979CAA;left:118.20px;width:300px;text-align:right;">50</div>
<div class="t" style="top:367px;font-size:5.75px;line-height:6px;color:#979CAA;left:363.30px;width:300px;text-align:right;">2</div>
<div style="position:absolute;left:423.50px;top:395.50px;width:234.00px;height:0.60px;background:#EFF0F4;"></div>
<div class="t" style="top:393px;font-size:5.75px;line-height:6px;color:#979CAA;left:118.20px;width:300px;text-align:right;">0</div>
<div class="t" style="top:393px;font-size:5.75px;line-height:6px;color:#979CAA;left:363.30px;width:300px;text-align:right;">0</div>
<div style="position:absolute;left:423.50px;top:421.60px;width:234.00px;height:0.60px;background:#EFF0F4;"></div>
<div class="t" style="top:419px;font-size:5.75px;line-height:6px;color:#979CAA;left:118.20px;width:300px;text-align:right;">-50</div>
<div class="t" style="top:419px;font-size:5.75px;line-height:6px;color:#979CAA;left:363.30px;width:300px;text-align:right;">-2</div>
<div style="position:absolute;left:423.50px;top:447.70px;width:234.00px;height:0.60px;background:#EFF0F4;"></div>
<div class="t" style="top:445px;font-size:5.75px;line-height:6px;color:#979CAA;left:118.20px;width:300px;text-align:right;">-100</div>
<div class="t" style="top:445px;font-size:5.75px;line-height:6px;color:#979CAA;left:363.30px;width:300px;text-align:right;">-4</div>
<div class="t" style="top:458px;font-size:5.9px;line-height:6px;color:#979CAA;left:424.30px;">17/03/2022</div>
<div class="t" style="top:458px;font-size:5.9px;line-height:6px;color:#979CAA;left:465.05px;">18/03/2022</div>
<div class="t" style="top:458px;font-size:5.9px;line-height:6px;color:#979CAA;left:505.80px;">19/03/2022</div>
<div class="t" style="top:458px;font-size:5.9px;line-height:6px;color:#979CAA;left:546.55px;">20/03/2022</div>
<div class="t" style="top:458px;font-size:5.9px;line-height:6px;color:#979CAA;left:587.30px;">21/03/2022</div>
<div class="t" style="top:458px;font-size:5.9px;line-height:6px;color:#979CAA;left:628.05px;">22/03/2022</div>
<svg style="position:absolute;left:0.00px;top:0.00px;overflow:visible" width="760" height="474" viewBox="0 0 760 474"><defs><linearGradient id="lg2" gradientUnits="userSpaceOnUse" x1="0" y1="350" x2="0" y2="435"><stop offset="0" stop-color="#C6DCF8" stop-opacity="0.8"/><stop offset="0.5" stop-color="#C6DCF8" stop-opacity="0.32"/><stop offset="1" stop-color="#C6DCF8" stop-opacity="0"/></linearGradient></defs><path d="M424.40,397.70 C425.17,399.45 427.23,404.45 429.00,408.20 C430.77,411.95 432.65,417.13 435.00,420.20 C437.35,423.27 440.58,425.93 443.10,426.60 C445.62,427.27 447.60,426.60 450.10,424.20 C452.60,421.80 455.60,416.55 458.10,412.20 C460.60,407.85 462.93,401.78 465.10,398.10 C467.27,394.42 468.93,391.60 471.10,390.10 C473.27,388.60 475.92,389.27 478.10,389.10 C480.28,388.93 482.35,389.43 484.20,389.10 C486.05,388.77 487.47,389.40 489.20,387.10 C490.93,384.80 492.78,379.75 494.60,375.30 C496.42,370.85 498.35,364.23 500.10,360.40 C501.85,356.57 503.33,353.98 505.10,352.30 C506.87,350.62 508.80,350.12 510.70,350.30 C512.60,350.48 514.68,351.28 516.50,353.40 C518.32,355.52 520.12,358.87 521.60,363.00 C523.08,367.13 524.13,372.30 525.40,378.20 C526.67,384.10 527.93,392.50 529.20,398.40 C530.47,404.30 531.70,409.75 533.00,413.60 C534.30,417.45 535.82,419.82 537.00,421.50 C538.18,423.18 538.87,423.53 540.10,423.70 C541.33,423.87 542.85,424.40 544.40,422.50 C545.95,420.60 547.72,416.73 549.40,412.30 C551.08,407.87 552.80,400.32 554.50,395.90 C556.20,391.48 557.70,388.12 559.60,385.80 C561.50,383.48 563.80,382.85 565.90,382.00 C568.00,381.15 570.25,381.33 572.20,380.70 C574.15,380.07 575.85,380.10 577.60,378.20 C579.35,376.30 581.10,372.47 582.70,369.30 C584.30,366.13 585.73,361.40 587.20,359.20 C588.67,357.00 590.15,356.10 591.50,356.10 C592.85,356.10 593.82,357.00 595.30,359.20 C596.78,361.40 598.50,366.13 600.40,369.30 C602.30,372.47 604.38,376.08 606.70,378.20 C609.02,380.32 611.77,381.25 614.30,382.00 C616.83,382.75 619.15,383.00 621.90,382.70 C624.65,382.40 627.63,381.58 630.80,380.20 C633.97,378.82 637.53,376.63 640.90,374.40 C644.27,372.17 648.27,368.92 651.00,366.80 C653.73,364.68 656.25,362.55 657.30,361.70 L657.3,445 L424.4,445 Z" fill="url(#lg2)"/><rect x="430.00" y="344.00" width="5.4" height="52.20" fill="#4FCD4B"/><rect x="430.00" y="396.20" width="5.4" height="22.40" fill="#C5C9D3"/><rect x="449.36" y="372.10" width="5.4" height="24.10" fill="#4FCD4B"/><rect x="449.36" y="396.20" width="5.4" height="36.40" fill="#C5C9D3"/><rect x="468.72" y="356.00" width="5.4" height="40.20" fill="#4FCD4B"/><rect x="468.72" y="396.20" width="5.4" height="11.60" fill="#C5C9D3"/><rect x="488.08" y="329.50" width="5.4" height="66.70" fill="#4FCD4B"/><rect x="488.08" y="396.20" width="5.4" height="32.00" fill="#C5C9D3"/><rect x="507.44" y="388.30" width="5.4" height="7.90" fill="#4FCD4B"/><rect x="507.44" y="396.20" width="5.4" height="45.80" fill="#C5C9D3"/><rect x="526.80" y="354.90" width="5.4" height="41.30" fill="#4FCD4B"/><rect x="526.80" y="396.20" width="5.4" height="16.10" fill="#C5C9D3"/><rect x="546.16" y="378.20" width="5.4" height="18.00" fill="#4FCD4B"/><rect x="546.16" y="396.20" width="5.4" height="10.30" fill="#C5C9D3"/><rect x="565.52" y="385.30" width="5.4" height="10.90" fill="#4FCD4B"/><rect x="565.52" y="396.20" width="5.4" height="25.00" fill="#C5C9D3"/><rect x="584.88" y="371.10" width="5.4" height="25.10" fill="#4FCD4B"/><rect x="584.88" y="396.20" width="5.4" height="9.80" fill="#C5C9D3"/><rect x="604.24" y="354.90" width="5.4" height="41.30" fill="#4FCD4B"/><rect x="604.24" y="396.20" width="5.4" height="18.70" fill="#C5C9D3"/><rect x="623.60" y="344.00" width="5.4" height="52.20" fill="#4FCD4B"/><rect x="623.60" y="396.20" width="5.4" height="24.50" fill="#C5C9D3"/><rect x="642.96" y="356.60" width="5.4" height="39.60" fill="#4FCD4B"/><rect x="642.96" y="396.20" width="5.4" height="28.30" fill="#C5C9D3"/><path d="M424.40,397.70 C425.17,399.45 427.23,404.45 429.00,408.20 C430.77,411.95 432.65,417.13 435.00,420.20 C437.35,423.27 440.58,425.93 443.10,426.60 C445.62,427.27 447.60,426.60 450.10,424.20 C452.60,421.80 455.60,416.55 458.10,412.20 C460.60,407.85 462.93,401.78 465.10,398.10 C467.27,394.42 468.93,391.60 471.10,390.10 C473.27,388.60 475.92,389.27 478.10,389.10 C480.28,388.93 482.35,389.43 484.20,389.10 C486.05,388.77 487.47,389.40 489.20,387.10 C490.93,384.80 492.78,379.75 494.60,375.30 C496.42,370.85 498.35,364.23 500.10,360.40 C501.85,356.57 503.33,353.98 505.10,352.30 C506.87,350.62 508.80,350.12 510.70,350.30 C512.60,350.48 514.68,351.28 516.50,353.40 C518.32,355.52 520.12,358.87 521.60,363.00 C523.08,367.13 524.13,372.30 525.40,378.20 C526.67,384.10 527.93,392.50 529.20,398.40 C530.47,404.30 531.70,409.75 533.00,413.60 C534.30,417.45 535.82,419.82 537.00,421.50 C538.18,423.18 538.87,423.53 540.10,423.70 C541.33,423.87 542.85,424.40 544.40,422.50 C545.95,420.60 547.72,416.73 549.40,412.30 C551.08,407.87 552.80,400.32 554.50,395.90 C556.20,391.48 557.70,388.12 559.60,385.80 C561.50,383.48 563.80,382.85 565.90,382.00 C568.00,381.15 570.25,381.33 572.20,380.70 C574.15,380.07 575.85,380.10 577.60,378.20 C579.35,376.30 581.10,372.47 582.70,369.30 C584.30,366.13 585.73,361.40 587.20,359.20 C588.67,357.00 590.15,356.10 591.50,356.10 C592.85,356.10 593.82,357.00 595.30,359.20 C596.78,361.40 598.50,366.13 600.40,369.30 C602.30,372.47 604.38,376.08 606.70,378.20 C609.02,380.32 611.77,381.25 614.30,382.00 C616.83,382.75 619.15,383.00 621.90,382.70 C624.65,382.40 627.63,381.58 630.80,380.20 C633.97,378.82 637.53,376.63 640.90,374.40 C644.27,372.17 648.27,368.92 651.00,366.80 C653.73,364.68 656.25,362.55 657.30,361.70" fill="none" stroke="#2F83E4" stroke-width="1.25"/></svg>
</div></div>
<div id="frame"></div>
</body></html>
